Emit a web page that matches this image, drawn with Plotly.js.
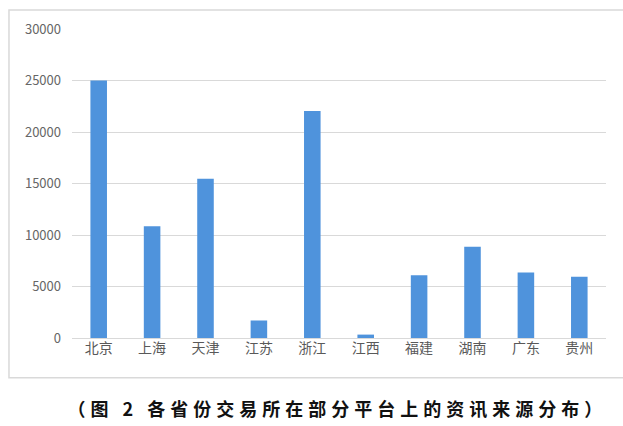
<!DOCTYPE html>
<html>
<head>
<meta charset="utf-8">
<script src="https://cdn.plot.ly/plotly-3.0.1.min.js"></script>
<style>html,body{margin:0;padding:0;background:#fff;}#chart{width:623px;height:426px;}</style>
</head>
<body>
<div id="chart"></div>
<script>
const categories = ["北京","上海","天津","江苏","浙江","江西","福建","湖南","广东","贵州"];
const values = [25000,10850,15450,1700,22050,330,6100,8850,6350,5950];
const yTicks = [0,5000,10000,15000,20000,25000,30000];
const caption = "（图 2 各省份交易所在部分平台上的资讯来源分布）";

const trace = {
  type: "bar",
  x: categories,
  y: values,
  marker: {color: "#4f93dc"},
  hoverinfo: "x+y"
};

const layout = {
  width: 623, height: 426,
  margin: {l: 72, r: 17, t: 29, b: 88},
  paper_bgcolor: "#fff", plot_bgcolor: "#fff",
  bargap: 0.69,
  showlegend: false,
  font: {family: "Noto Sans CJK SC, Noto Sans, sans-serif", color: "#595959"},
  xaxis: {
    type: "category",
    showgrid: false,
    showline: false,
    ticks: "",
    tickfont: {size: 14, color: "#595959"},
    fixedrange: true
  },
  yaxis: {
    range: [0, 30000],
    tickvals: yTicks,
    ticktext: yTicks.map(String),
    showgrid: true,
    gridcolor: "#d9d9d9",
    gridwidth: 1,
    zeroline: true,
    zerolinecolor: "#d9d9d9",
    zerolinewidth: 1,
    showline: false,
    ticks: "",
    ticklabelstandoff: 10,
    tickfont: {size: 13, color: "#666666"},
    fixedrange: true
  },
  shapes: [{
    type: "rect", xref: "paper", yref: "paper",
    x0: -0.118, x1: 1.04, y0: -0.129, y1: 1.0615,
    line: {color: "#d9d9d9", width: 1.5},
    fillcolor: "rgba(0,0,0,0)", layer: "below"
  }],
  annotations: [{
    text: caption, xref: "paper", yref: "paper",
    x: 0.498, y: -0.2265, xanchor: "center", yanchor: "middle",
    showarrow: false,
    font: {family: "Noto Sans CJK SC, sans-serif", size: 18, color: "#111", weight: "bold"}
  }]
};

Plotly.newPlot("chart", [trace], layout, {displayModeBar: false, staticPlot: true}).then(function () {
  document.querySelectorAll(".annotation-text").forEach(function (t) {
    t.style.letterSpacing = "5px";
  });
});
</script>
</body>
</html>
